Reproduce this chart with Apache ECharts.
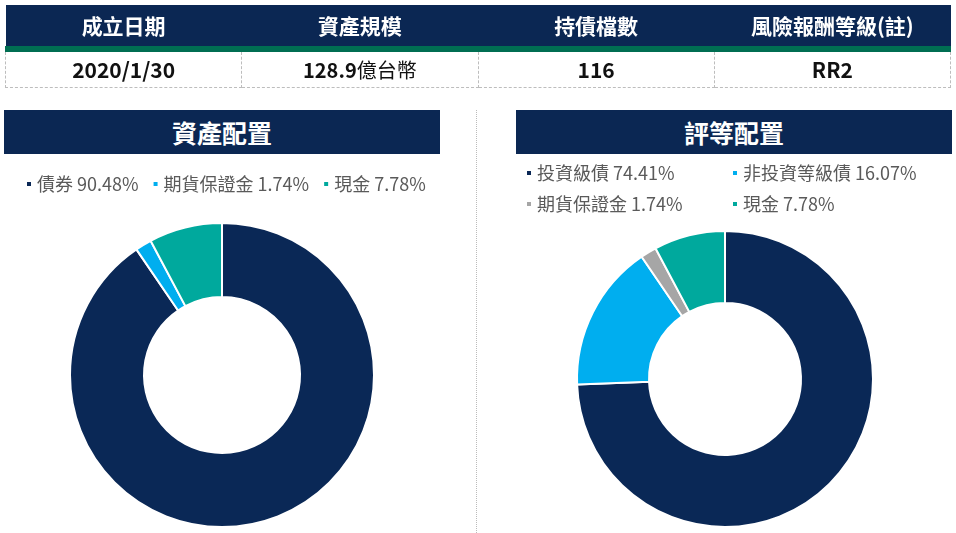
<!DOCTYPE html>
<html>
<head>
<meta charset="utf-8">
<script src="https://cdn.jsdelivr.net/npm/echarts@6/dist/echarts.min.js"></script>
<style>
  html, body { margin: 0; padding: 0; background: #fff; }
  body { width: 956px; height: 533px; position: relative; overflow: hidden;
         font-family: "Noto Sans CJK TC", "Noto Sans", sans-serif; }
  #chart { position: absolute; left: 0; top: 0; width: 956px; height: 533px; }
  .info { position: absolute; left: 5px; top: 5px; width: 946px; border-collapse: collapse; table-layout: fixed; }
  .info th { background: #0b2753; color: #fff; font-size: 21px; font-weight: bold; height: 41px;
             border-bottom: 6px solid #006e52; padding: 0; line-height: 41px; }
  .info td { height: 35px; text-align: center; font-size: 20px; font-weight: bold; color: #111;
             border: 1px dashed #bdbdbd; border-top: none; padding: 0; line-height: 35px; }
  .info td.d { font-size: 21px; }
  .info td span { font-weight: normal; }
  .bar { position: absolute; top: 110px; height: 44px; width: 436px; background: #0b2753; color: #fff;
         font-size: 25px; font-weight: bold; text-align: center; line-height: 44px; }
  .divider { position: absolute; left: 476px; top: 110px; height: 423px; border-left: 1px dotted #bbb; }
</style>
</head>
<body>
<div id="chart"></div>
<table class="info">
  <tr><th>成立日期</th><th>資產規模</th><th>持債檔數</th><th>風險報酬等級(註)</th></tr>
  <tr><td class="d">2020/1/30</td><td>128.9<span>億台幣</span></td><td class="d">116</td><td class="d">RR2</td></tr>
</table>
<div class="bar" style="left:4px;">資產配置</div>
<div class="bar" style="left:516px;">評等配置</div>
<div class="divider"></div>
<script>
// 資產配置
var assetNames = ['債券', '期貨保證金', '現金'];
var assetValues = [90.48, 1.74, 7.78];
var assetColors = ['#0a2856', '#00aeef', '#00a99d'];

// 評等配置
var ratingNames = ['投資級債', '非投資等級債', '期貨保證金', '現金'];
var ratingValues = [74.41, 16.07, 1.74, 7.78];
var ratingColors = ['#0a2856', '#00aeef', '#a6a6a6', '#00a99d'];

var myChart = echarts.init(document.getElementById('chart'));

function toData(names, values, colors) {
    var res = [];
    for (var i = 0; i < names.length; i++) {
        res.push({ name: names[i], value: values[i], itemStyle: { color: colors[i] } });
    }
    return res;
}

var legendText = { fontSize: 18, color: '#5a5a5a', fontFamily: 'Noto Sans CJK TC' };

// 圖例: idx 為要放進這個圖例的項目
function legendFor(names, values, colors, idx, left, top) {
    var items = [], vals = {};
    idx.forEach(function (i) {
        items.push({ name: names[i], itemStyle: { color: colors[i] } });
        vals[names[i]] = values[i];
    });
    return {
        data: items,
        left: left,
        top: top,
        padding: 0,
        itemWidth: 6,
        itemHeight: 6,
        itemGap: 13,
        icon: 'rect',
        selectedMode: false,
        textStyle: legendText,
        formatter: function (name) {
            return name + ' ' + vals[name].toFixed(2) + '%';
        }
    };
}

var option = {
    animation: false,
    legend: [
        legendFor(assetNames, assetValues, assetColors, [0, 1, 2], 25, 175),
        legendFor(ratingNames, ratingValues, ratingColors, [0], 525, 164),
        legendFor(ratingNames, ratingValues, ratingColors, [1], 731, 164),
        legendFor(ratingNames, ratingValues, ratingColors, [2], 525, 195),
        legendFor(ratingNames, ratingValues, ratingColors, [3], 731, 195)
    ],
    series: [
        {
            name: '資產配置',
            type: 'pie',
            center: [222, 375],
            radius: [78, 152],
            startAngle: 90,
            label: { show: false },
            labelLine: { show: false },
            itemStyle: { borderColor: '#fff', borderWidth: 2 },
            data: toData(assetNames, assetValues, assetColors)
        },
        {
            name: '評等配置',
            type: 'pie',
            center: [725, 379],
            radius: [76, 148],
            startAngle: 90,
            label: { show: false },
            labelLine: { show: false },
            itemStyle: { borderColor: '#fff', borderWidth: 2 },
            data: toData(ratingNames, ratingValues, ratingColors)
        }
    ]
};
myChart.setOption(option);
</script>
</body>
</html>
